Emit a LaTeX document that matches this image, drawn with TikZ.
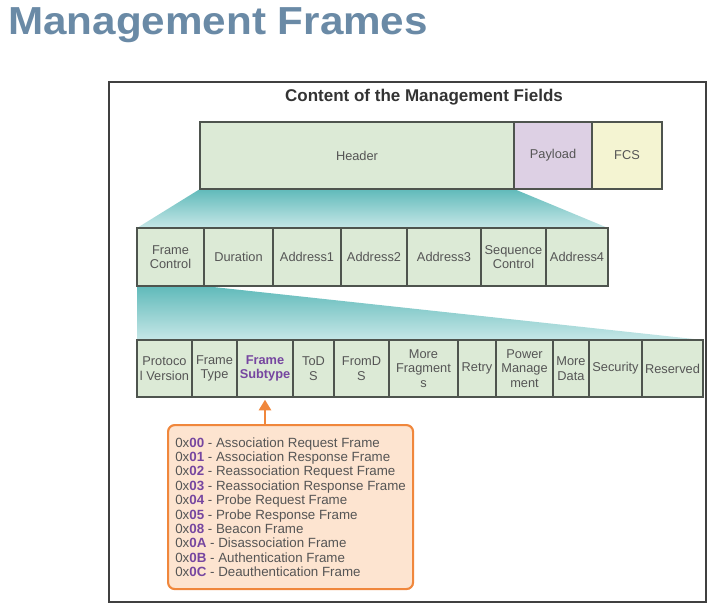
\documentclass[tikz,border=0pt]{standalone}
\usepackage{fontspec}
\setmainfont{Liberation Sans}
\newfontfamily\titlefont[FakeStretch=1.08]{Liberation Sans}
\usetikzlibrary{arrows.meta,backgrounds}

\definecolor{titleBlue}{RGB}{106,138,166}
\definecolor{txtGray}{RGB}{85,85,85}
\definecolor{cellLine}{RGB}{78,84,78}
\definecolor{cellGreen}{RGB}{220,234,214}
\definecolor{payLav}{RGB}{221,208,228}
\definecolor{fcsYel}{RGB}{244,244,210}
\definecolor{fanTop}{RGB}{96,186,186}
\definecolor{fanBot}{RGB}{198,231,231}
\definecolor{subPurple}{RGB}{118,70,160}
\definecolor{boxOrange}{RGB}{240,135,60}
\definecolor{boxPeach}{RGB}{253,228,208}

\newcommand{\hexcode}[1]{\textcolor{subPurple}{\bfseries #1}}

\begin{document}
\begin{tikzpicture}[x=0.75pt, y=-0.75pt,
    cell/.style={draw=cellLine, line width=1.1pt, fill=cellGreen, inner sep=0pt, outer sep=0pt,
                 align=center, anchor=north west, text=txtGray, font=\fontsize{9.6}{10.9}\selectfont},
    cw/.style={minimum width=#1*0.75pt},
    row1/.style={cell, minimum height=50.25pt},
    row2/.style={cell, minimum height=43.5pt},
    row3/.style={cell, minimum height=42.75pt},
    fan/.style={top color=fanTop, bottom color=fanBot, draw=none},
    subbox/.style={draw=boxOrange, line width=1.6pt, fill=boxPeach, rounded corners=5pt, anchor=north west,
                   minimum width=183.75pt, minimum height=123pt, inner sep=0pt, align=left, text=txtGray,
                   font=\fontsize{10}{10.8}\selectfont},
    subarrow/.style={draw=boxOrange, line width=2pt, -{Triangle[width=9pt,length=8pt]}, shorten >=2pt},
    frameline/.style={draw=black!75, line width=0.9pt}]
\useasboundingbox (0,0) rectangle (713,613);

% title and frame
\node[anchor=base west, inner sep=0pt, text=titleBlue, font=\titlefont\bfseries\fontsize{29.3}{32}\selectfont] (title) at (8,35) {Management Frames};
\draw[frameline] (109,82) rectangle (706,602);
\node[anchor=base, inner sep=0pt, text=black!80, font=\bfseries\fontsize{12.75}{14}\selectfont] (caption) at (424,102) {Content of the Management Fields};

% frame
\node[row1, cw=314] (hdr) at (200,122) {Header};
\node[row1, cw=78, fill=payLav] (pay) at (514,122) {Payload};
\node[row1, cw=70, fill=fcsYel] (fcs) at (592,122) {FCS};

% header
\node[row2, cw=67] (fc)  at (137,228) {Frame\\Control};
\node[row2, cw=69] (dur) at (204,228) {Duration};
\node[row2, cw=68] (a1)  at (273,228) {Address1};
\node[row2, cw=66] (a2)  at (341,228) {Address2};
\node[row2, cw=74] (a3)  at (407,228) {Address3};
\node[row2, cw=65] (seq) at (481,228) {Sequence\\Control};
\node[row2, cw=62] (a4)  at (546,228) {Address4};

% frame control
\node[row3, cw=55] (pv)   at (137,340) {Protoco\\l Version};
\node[row3, cw=45] (ft)   at (192,340) {Frame\\Type};
\node[row3, cw=56, text=subPurple, font=\bfseries\fontsize{9.6}{10.9}\selectfont] (fst) at (237,340) {Frame\\Subtype};
\node[row3, cw=41] (tods) at (293,340) {ToD\\S};
\node[row3, cw=55] (frds) at (334,340) {FromD\\S};
\node[row3, cw=69] (mf)   at (389,340) {More\\Fragment\\s};
\node[row3, cw=38] (rtr)  at (458,340) {Retry};
\node[row3, cw=57] (pm)   at (496,340) {Power\\Manage\\ment};
\node[row3, cw=36] (md)   at (553,340) {More\\Data};
\node[row3, cw=53] (sec)  at (589,340) {Security};
\node[row3, cw=61] (rsv)  at (642,340) {Reserved};

\begin{scope}[on background layer]
\shade[fan] (hdr.south west) -- (hdr.south east) -- (a4.north east) -- (fc.north west) -- cycle;
\shade[fan] (fc.south west) -- (fc.south east) -- (rsv.north east) -- (pv.north west) -- cycle;
\end{scope}

% subtypes
\node[subbox] (codes) at (167,424) {0x\hexcode{00} - Association Request Frame\\
0x\hexcode{01} - Association Response Frame\\
0x\hexcode{02} - Reassociation Request Frame\\
0x\hexcode{03} - Reassociation Response Frame\\
0x\hexcode{04} - Probe Request Frame\\
0x\hexcode{05} - Probe Response Frame\\
0x\hexcode{08} - Beacon Frame\\
0x\hexcode{0A} - Disassociation Frame\\
0x\hexcode{0B} - Authentication Frame\\
0x\hexcode{0C} - Deauthentication Frame};
\draw[subarrow] (codes.north -| fst.south) -- (fst.south);

\end{tikzpicture}
\end{document}
